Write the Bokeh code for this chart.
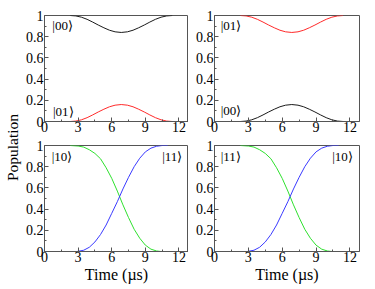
from bokeh.plotting import figure
from bokeh.layouts import row, column
from bokeh.models import FixedTicker, CustomJSTickFormatter, Label, Range1d, LinearAxis
from bokeh.embed import file_html
from bokeh.resources import INLINE

# ---------------- data ----------------
x_ticks = [0, 3, 6, 9, 12]
x_minor = [1.5, 4.5, 7.5, 10.5]
y_ticks = [0, 0.2, 0.4, 0.6, 0.8, 1.0]
y_minor = [0.1, 0.3, 0.5, 0.7, 0.9]
x_max = 12.85

# top panels: population that stays (high) and population that leaks (low)
t_top = [2.3, 2.8, 3.3, 3.8, 4.3, 4.8, 5.3, 5.8, 6.3, 6.85,
         7.4, 7.9, 8.4, 8.9, 9.4, 9.9, 10.4, 10.9, 11.4]
pop_high = [1.0, 0.996, 0.984, 0.964, 0.938, 0.91, 0.884, 0.861, 0.846, 0.84,
            0.846, 0.861, 0.884, 0.91, 0.938, 0.964, 0.984, 0.996, 1.0]
pop_low = [0.0, 0.004, 0.016, 0.036, 0.062, 0.09, 0.116, 0.139, 0.154, 0.16,
           0.154, 0.139, 0.116, 0.09, 0.062, 0.036, 0.016, 0.004, 0.0]

# bottom panels: decaying (green) and rising (blue) populations
t_green = [2.3, 3.0, 3.5, 4.0, 4.5, 5.0, 5.5, 6.0, 6.5, 7.0,
           7.5, 8.0, 8.5, 9.0, 9.5, 10.0, 10.4]
pop_green = [1.0, 0.995, 0.985, 0.96, 0.925, 0.875, 0.79, 0.69, 0.57, 0.44,
             0.32, 0.21, 0.125, 0.06, 0.022, 0.005, 0.0]
t_blue = [2.9, 3.5, 4.0, 4.5, 5.0, 5.5, 6.0, 6.5, 7.0, 7.5,
          8.0, 8.5, 9.0, 9.5, 10.0, 10.5, 11.0]
pop_blue = [0.0, 0.012, 0.04, 0.09, 0.16, 0.25, 0.36, 0.47, 0.59, 0.70,
            0.80, 0.88, 0.94, 0.975, 0.993, 1.0, 1.0]

# state labels per panel: (top label, second label)
labels_tl = ["|00⟩", "|01⟩"]
labels_tr = ["|01⟩", "|00⟩"]
labels_bl = ["|10⟩", "|11⟩"]
labels_br = ["|11⟩", "|10⟩"]

y_title = "Population"
x_title = "Time (µs)"

# ---------------- style ----------------
FONT = "Liberation Serif"
FRAME = "#555555"
BLACK = "#1a1a1a"
RED = "#ff2a2a"
GREEN = "#2ee02e"
BLUE = "#3a3aff"


def panel(width, height, left, right, top, bottom, xlabel=None):
    p = figure(width=width, height=height,
               x_range=Range1d(0, x_max), y_range=Range1d(0, 1),
               output_backend="svg", toolbar_location=None,
               min_border_left=left, min_border_right=right,
               min_border_top=top, min_border_bottom=bottom)
    p.grid.visible = False
    p.outline_line_color = FRAME
    p.outline_line_width = 1
    p.background_fill_color = "white"
    p.border_fill_color = "white"
    for ax, ticks, minor in ((p.xaxis[0], x_ticks, x_minor),
                             (p.yaxis[0], y_ticks, y_minor)):
        ax.ticker = FixedTicker(ticks=ticks, minor_ticks=minor)
        ax.major_tick_in = 4
        ax.major_tick_out = 0
        ax.minor_tick_in = 2
        ax.minor_tick_out = 0
        ax.axis_line_color = FRAME
        ax.major_tick_line_color = FRAME
        ax.minor_tick_line_color = FRAME
        ax.major_label_text_font = FONT
        ax.major_label_text_font_size = "14px"
        ax.major_label_text_color = "black"
        ax.major_label_standoff = 1
    p.xaxis[0].major_label_standoff = 0
    p.yaxis[0].formatter = CustomJSTickFormatter(
        code="return String(Math.round(tick * 10) / 10);")
    if xlabel:
        ax = p.xaxis[0]
        ax.axis_label = xlabel
        ax.axis_label_text_font = FONT
        ax.axis_label_text_font_size = "16px"
        ax.axis_label_text_font_style = "normal"
        ax.axis_label_text_color = "black"
        ax.axis_label_standoff = 1
    return p


def state_label(p, text, x, y, align="left"):
    p.add_layout(Label(x=x, y=y, text=text, text_font=FONT,
                       text_font_size="13px", text_color="black",
                       text_align=align, text_baseline="middle"))


# population label column: an axis with only its title
pop = figure(width=22, height=289, x_range=Range1d(0, 1), y_range=Range1d(0, 1),
             x_axis_type=None, y_axis_type=None, output_backend="svg",
             toolbar_location=None, min_border_left=18, min_border_right=0,
             min_border_top=5, min_border_bottom=0)
pop.grid.visible = False
pop.outline_line_color = None
pop_axis = LinearAxis(ticker=FixedTicker(ticks=[]), axis_label=y_title,
                      axis_line_color=None, major_tick_line_color=None,
                      minor_tick_line_color=None, major_label_standoff=0,
                      axis_label_standoff=0, axis_label_text_font=FONT,
                      axis_label_text_font_size="15.5px",
                      axis_label_text_font_style="normal",
                      axis_label_text_color="black")
pop.add_layout(pop_axis, "left")

tl = panel(166, 137, 20, 0, 15, 16)
tl.line(t_top, pop_high, line_color=BLACK, line_width=1)
tl.line(t_top, pop_low, line_color=RED, line_width=1)
state_label(tl, labels_tl[0], 0.7, 0.905)
state_label(tl, labels_tl[1], 0.75, 0.09)

tr = panel(187, 137, 26, 16, 15, 16)
tr.line(t_top, pop_high, line_color=RED, line_width=1)
tr.line(t_top, pop_low, line_color=BLACK, line_width=1)
state_label(tr, labels_tr[0], 0.55, 0.905)
state_label(tr, labels_tr[1], 0.55, 0.1)

bl = panel(166, 152, 20, 0, 8, 38, xlabel=x_title)
bl.line(t_green, pop_green, line_color=GREEN, line_width=1)
bl.line(t_blue, pop_blue, line_color=BLUE, line_width=1)
state_label(bl, labels_bl[0], 0.64, 0.9)
state_label(bl, labels_bl[1], 12.3, 0.9, align="right")

br = panel(187, 152, 26, 16, 8, 38, xlabel=x_title)
br.line(t_green, pop_green, line_color=GREEN, line_width=1)
br.line(t_blue, pop_blue, line_color=BLUE, line_width=1)
state_label(br, labels_br[0], 0.55, 0.9)
state_label(br, labels_br[1], 12.25, 0.9, align="right")

layout = row(pop, column(row(tl, tr), row(bl, br)))

open("out.html", "w").write(file_html(layout, INLINE))
